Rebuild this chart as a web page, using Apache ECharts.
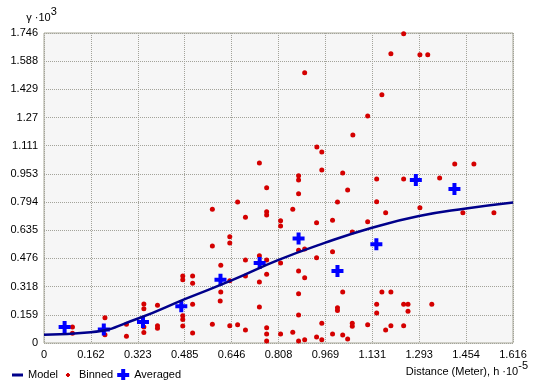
<!DOCTYPE html>
<html>
<head>
<meta charset="utf-8">
<script src="https://cdn.jsdelivr.net/npm/echarts@6/dist/echarts.min.js"></script>
<style>
    html, body { margin: 0; padding: 0; background: #fff; }
    #main { width: 535px; height: 380px; }
</style>
</head>
<body>
<div id="main"></div>
<script>
// axis steps (labels are these multiples, rounded to 3 decimals)
const xStep = 0.16157, xMax = 1.6157;
const yStep = 0.15876, yMax = 1.74636;

// model curve
const modelX = [0, 0.161, 0.324, 0.485, 0.648, 0.806, 0.967, 1.130, 1.292, 1.454, 1.616];
const modelY = [0.047, 0.060, 0.138, 0.247, 0.354, 0.467, 0.564, 0.649, 0.715, 0.758, 0.792];

// binned points
const binnedX = [
    0.098, 0.098, 0.210, 0.210, 0.284, 0.284, 0.344, 0.344, 0.344, 0.344,
    0.391, 0.391, 0.391, 0.478, 0.478, 0.478, 0.478, 0.478, 0.512, 0.512,
    0.512, 0.512, 0.580, 0.580, 0.580, 0.607, 0.609, 0.609, 0.640, 0.640,
    0.640, 0.640, 0.667, 0.667, 0.694, 0.694, 0.694, 0.694, 0.742, 0.742,
    0.742, 0.742, 0.767, 0.767, 0.767, 0.767, 0.767, 0.767, 0.767, 0.767,
    0.815, 0.815, 0.815, 0.815, 0.857, 0.857, 0.877, 0.877, 0.877, 0.877,
    0.877, 0.877, 0.877, 0.877, 0.898, 0.898, 0.898, 0.898, 0.939, 0.939,
    0.939, 0.940, 0.957, 0.957, 0.957, 0.957, 0.994, 0.994, 0.994, 1.011,
    1.011, 1.011, 1.029, 1.029, 1.029, 1.046, 1.046, 1.062, 1.062, 1.062,
    1.064, 1.115, 1.115, 1.115, 1.146, 1.146, 1.146, 1.146, 1.164, 1.164,
    1.177, 1.177, 1.195, 1.195, 1.195, 1.239, 1.239, 1.239, 1.239, 1.254,
    1.254, 1.295, 1.322, 1.295, 1.336, 1.363, 1.415, 1.481, 1.443, 1.550
];
const binnedY = [
    0.090, 0.055, 0.142, 0.047, 0.106, 0.038, 0.220, 0.193, 0.090, 0.059,
    0.213, 0.097, 0.083, 0.378, 0.356, 0.153, 0.133, 0.096, 0.378, 0.337,
    0.218, 0.056, 0.106, 0.754, 0.546, 0.237, 0.438, 0.288, 0.097, 0.598,
    0.564, 0.350, 0.794, 0.103, 0.709, 0.468, 0.378, 0.073, 1.014, 0.491,
    0.344, 0.203, 0.875, 0.739, 0.721, 0.468, 0.388, 0.086, 0.051, 0.011,
    0.688, 0.659, 0.451, 0.051, 0.754, 0.060, 0.942, 0.918, 0.841, 0.523,
    0.406, 0.277, 0.158, 0.011, 0.530, 0.367, 0.018, 1.522, 0.677, 0.480,
    0.034, 1.104, 1.076, 0.975, 0.111, 0.018, 0.692, 0.514, 0.051, 0.794,
    0.199, 0.183, 0.958, 0.288, 0.045, 0.862, 0.023, 0.625, 0.111, 0.094,
    1.172, 1.279, 0.683, 0.103, 0.924, 0.796, 0.218, 0.169, 1.398, 0.288,
    0.073, 0.734, 0.097, 0.288, 1.629, 1.742, 0.924, 0.218, 0.097, 0.218,
    0.179, 1.624, 1.624, 0.762, 0.218, 0.929, 1.008, 1.008, 0.734, 0.734
];

// averaged points
const averagedX = [0.071, 0.206, 0.341, 0.473, 0.608, 0.743, 0.877, 1.011, 1.145, 1.281, 1.414];
const averagedY = [0.090, 0.076, 0.119, 0.207, 0.356, 0.451, 0.589, 0.406, 0.557, 0.918, 0.867];

function zip(xs, ys) {
    return xs.map(function (x, i) { return [x, ys[i]]; });
}

function fmt(v) {
    if (Math.abs(v) < 1e-9) return '0';
    return String(parseFloat(v.toFixed(3)));
}

const font = '"Liberation Sans", Arial, sans-serif';
const gridColor = '#a3a39a';
const plusIcon = 'path://M4,0H8V4H12V8H8V12H4V8H0V4H4Z';
const dotIcon = 'path://M0,0M12,12M5,4H7V5H8V7H7V8H5V7H4V5H5Z';
const barIcon = 'path://M0,0M12,12M1,4.5H12V7.5H1Z';

let myChart = echarts.init(document.getElementById('main'));
myChart.setOption({
    animation: false,
    textStyle: { fontFamily: font },
    grid: {
        left: 44, right: 22, top: 33, bottom: 37,
        show: true, backgroundColor: '#f6f6f6',
        borderColor: '#a8a898', borderWidth: 1
    },
    legend: {
        left: 6, top: 364,
        itemWidth: 12, itemHeight: 12, itemGap: 4,
        textStyle: { fontSize: 11, color: '#000', fontFamily: font },
        data: [
            { name: 'Model', icon: barIcon },
            { name: 'Binned', icon: dotIcon },
            { name: 'Averaged', icon: plusIcon }
        ]
    },
    xAxis: {
        type: 'value', min: 0, max: xMax, interval: xStep,
        name: '{a|Distance (Meter), h ·10}{s|-5}',
        nameLocation: 'end', nameGap: 15,
        nameTextStyle: {
            align: 'right', verticalAlign: 'top', padding: [17, 0, 0, 0],
            rich: {
                a: { fontSize: 11, color: '#000', lineHeight: 23, fontFamily: font },
                s: { fontSize: 11, color: '#000', lineHeight: 11, verticalAlign: 'top', fontFamily: font }
            }
        },
        axisLine: { show: false },
        axisTick: { show: false },
        axisLabel: { color: '#000', fontSize: 11, margin: 6, formatter: fmt, showMaxLabel: true },
        splitLine: { show: true, lineStyle: { color: gridColor, type: [1, 1], width: 1 } }
    },
    yAxis: {
        type: 'value', min: 0, max: yMax, interval: yStep,
        name: '{a|γ ·10}{s|3}',
        nameLocation: 'end', nameGap: 4,
        nameTextStyle: {
            padding: [0, 5, 0, 0],
            rich: {
                a: { fontSize: 11, color: '#000', lineHeight: 23, fontFamily: font },
                s: { fontSize: 11, color: '#000', lineHeight: 11, verticalAlign: 'top', fontFamily: font }
            }
        },
        axisLine: { show: false },
        axisTick: { show: false },
        axisLabel: { color: '#000', fontSize: 11, margin: 6, formatter: fmt, showMaxLabel: true },
        splitLine: { show: true, lineStyle: { color: gridColor, type: [1, 1], width: 1 } }
    },
    series: [
        {
            name: 'Model', type: 'line', smooth: true, symbol: 'none',
            data: zip(modelX, modelY),
            lineStyle: { color: '#00008b', width: 2.5 },
            itemStyle: { color: '#00008b' }
        },
        {
            name: 'Binned', type: 'scatter', symbol: 'circle', symbolSize: 5,
            data: zip(binnedX, binnedY),
            itemStyle: { color: '#d40000', opacity: 1 }
        },
        {
            name: 'Averaged', type: 'scatter', symbol: plusIcon, symbolSize: 12,
            data: zip(averagedX, averagedY),
            itemStyle: { color: '#0000ff', opacity: 1 }
        }
    ]
});
</script>
</body>
</html>
